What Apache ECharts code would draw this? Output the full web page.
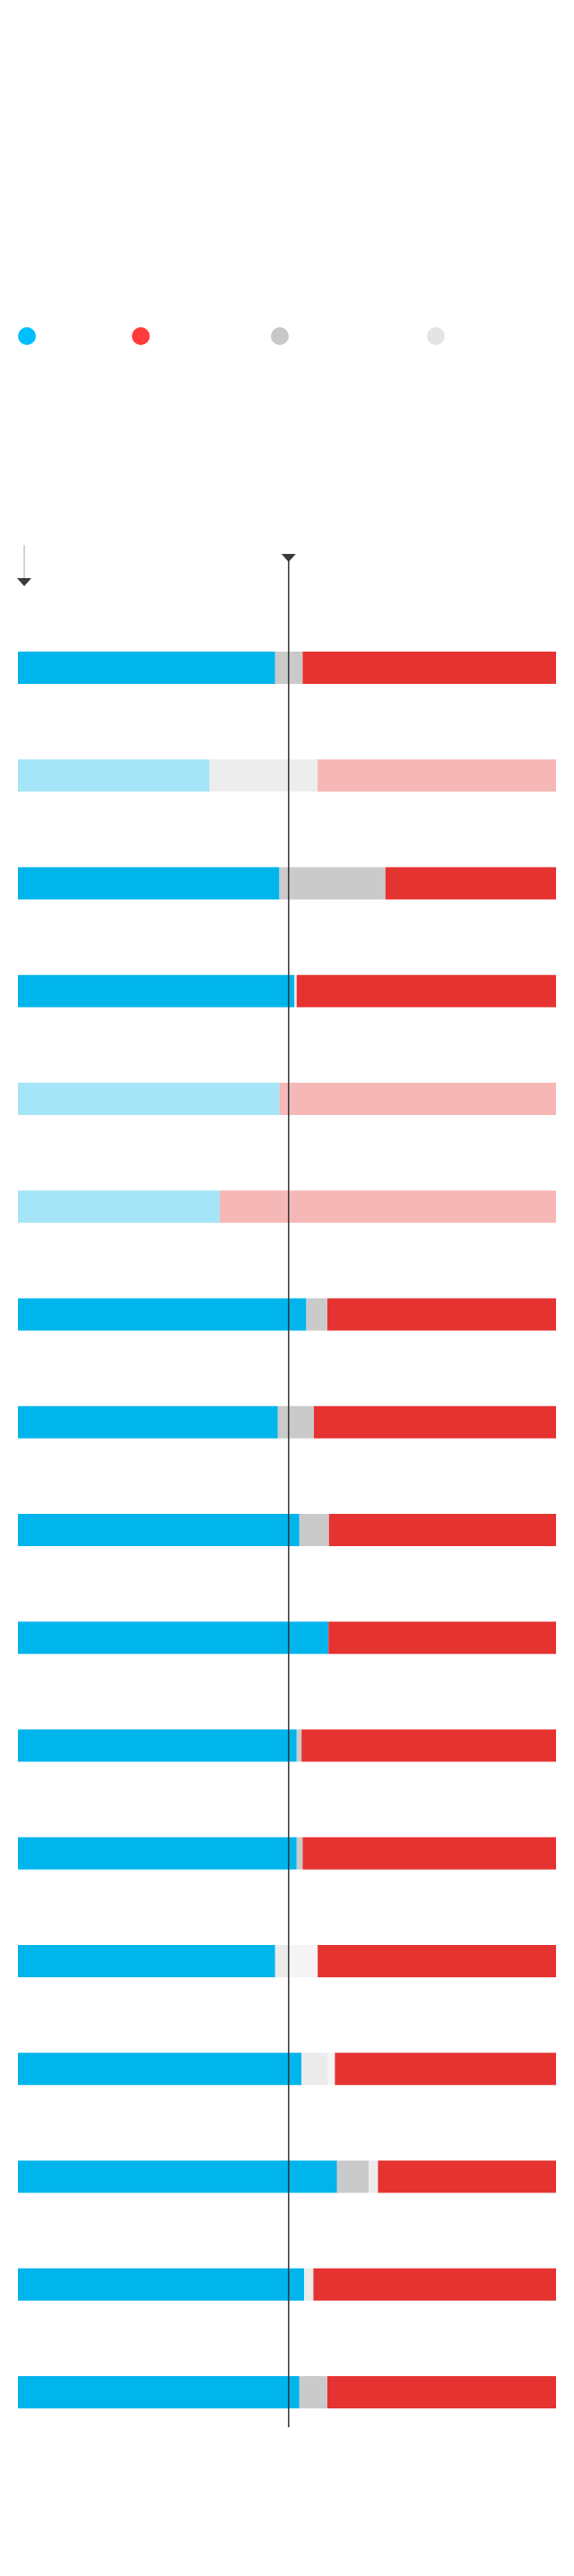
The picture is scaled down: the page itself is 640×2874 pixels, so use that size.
<!DOCTYPE html>
<html>
<head>
<meta charset="utf-8">
<script src="https://cdn.jsdelivr.net/npm/echarts@6/dist/echarts.min.js"></script>
<style>
html,body{margin:0;padding:0;background:#ffffff;}
#chart{width:640px;height:2874px;}
</style>
</head>
<body>
<div id="chart"></div>
<script>
// Rows (no visible labels in the reference)
var categories = ['1','2','3','4','5','6','7','8','9','10','11','12','13','14','15','16','17'];
// Shares (percent) per row, left to right
var blueValues      = [47.8, 35.6, 48.6, 51.4, 48.6, 37.5, 53.6, 48.3, 52.3, 57.7, 51.8, 51.8, 47.8, 52.7, 59.3, 53.2, 52.3];
var greyValues      = [5.1, 20.1, 19.7, 0, 0, 0, 3.9, 6.7, 5.5, 0, 0.9, 1.1, 0, 0, 5.9, 0, 5.2];
var lightGreyValues = [0, 0, 0, 0.4, 0, 0, 0, 0, 0, 0, 0, 0, 2.6, 4.8, 1.7, 1.7, 0];
var palestValues    = [0, 0, 0, 0, 0, 0, 0, 0, 0, 0, 0, 0, 5.3, 1.4, 0, 0, 0];
var redValues       = [47.1, 44.3, 31.7, 48.2, 51.4, 62.5, 42.5, 45.0, 42.2, 42.3, 47.3, 47.1, 44.3, 41.1, 33.1, 45.1, 42.5];
var fadedRows = [1, 4, 5];
var referenceValue = 50.3;

var chart = echarts.init(document.getElementById('chart'), null, {renderer:'canvas'});

function mk(name, values, color) {
  return {
    name: name,
    type: 'bar',
    stack: 'all',
    barWidth: 36,
    silent: true,
    itemStyle: { color: color },
    data: values.map(function (v, i) {
      return fadedRows.indexOf(i) >= 0 ? { value: v, itemStyle: { opacity: 0.35 } } : v;
    })
  };
}

chart.setOption({
  animation: false,
  backgroundColor: '#ffffff',
  grid: { left: 20, right: 20, top: 685, bottom: 145, containLabel: false },
  xAxis: { type: 'value', min: 0, max: 100, show: false },
  yAxis: { type: 'category', data: categories, inverse: true, show: false },
  series: [
    mk('blue', blueValues, '#00B4EC'),
    mk('grey', greyValues, '#CACACA'),
    mk('lightgrey', lightGreyValues, '#EBEBEB'),
    mk('palest', palestValues, '#F4F4F4'),
    mk('red', redValues, '#E53331')
  ]
});

var lx = chart.convertToPixel({ xAxisIndex: 0 }, referenceValue);
var ax = 27;
chart.setOption({
  graphic: [
    // legend dots
    { type: 'circle', shape: { cx: 30, cy: 375, r: 10 }, style: { fill: '#00BFFF' } },
    { type: 'circle', shape: { cx: 157, cy: 375, r: 10 }, style: { fill: '#FF3B3B' } },
    { type: 'circle', shape: { cx: 312, cy: 375, r: 10 }, style: { fill: '#C8C8C8' } },
    { type: 'circle', shape: { cx: 486, cy: 375, r: 10 }, style: { fill: '#E4E4E4' } },
    // left arrow
    { type: 'line', shape: { x1: ax, y1: 608, x2: ax, y2: 646 }, style: { stroke: '#C4C4C4', lineWidth: 1.5 } },
    { type: 'polygon', shape: { points: [[ax - 8, 645], [ax + 8, 645], [ax, 654]] }, style: { fill: '#3A3A3A' } },
    // reference line
    { type: 'line', z: 100, shape: { x1: lx, y1: 622, x2: lx, y2: 2708 }, style: { stroke: '#333333', lineWidth: 1.5 } },
    { type: 'polygon', z: 101, shape: { points: [[lx - 8, 618], [lx + 8, 618], [lx, 627]] }, style: { fill: '#3A3A3A' } }
  ]
});
</script>
</body>
</html>
